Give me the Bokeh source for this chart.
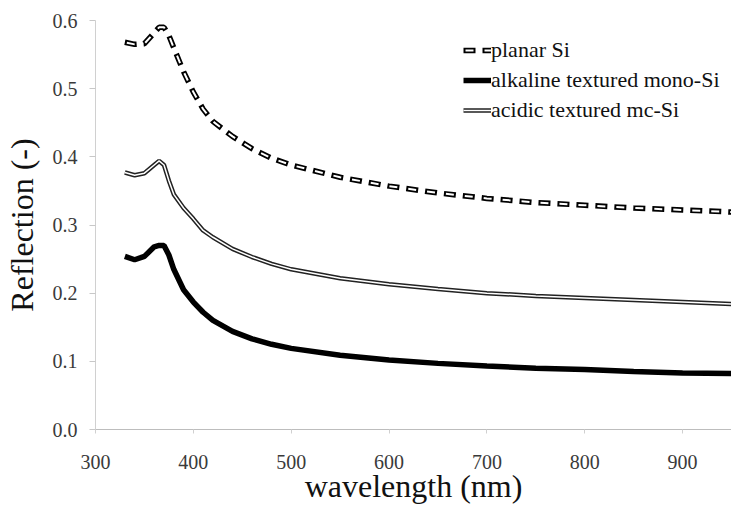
from bokeh.plotting import figure
from bokeh.models import Legend, LegendItem, PrintfTickFormatter, FixedTicker, Range1d
from bokeh.embed import file_html
from bokeh.resources import INLINE

wavelength = [330, 340, 350, 360, 365, 370, 375, 380, 390, 400, 410, 420, 440, 460, 480,
              500, 550, 600, 650, 700, 750, 800, 850, 900, 950]
planar_si = [0.568, 0.565, 0.566, 0.582, 0.590, 0.590, 0.578, 0.560, 0.525, 0.495, 0.470,
             0.452, 0.430, 0.412, 0.398, 0.388, 0.370, 0.357, 0.347, 0.339, 0.333, 0.329,
             0.325, 0.322, 0.319]
alkaline_mono = [0.254, 0.249, 0.254, 0.268, 0.270, 0.270, 0.256, 0.235, 0.205, 0.187, 0.172,
                 0.160, 0.144, 0.133, 0.125, 0.119, 0.109, 0.102, 0.097, 0.093, 0.090, 0.088,
                 0.085, 0.083, 0.082]
acidic_mc = [0.377, 0.373, 0.376, 0.388, 0.394, 0.388, 0.365, 0.345, 0.325, 0.309, 0.292,
             0.282, 0.265, 0.253, 0.243, 0.235, 0.222, 0.213, 0.206, 0.200, 0.196, 0.193,
             0.190, 0.187, 0.184]
labels = ["planar Si", "alkaline textured mono-Si", "acidic textured mc-Si"]
x_ticks = [300, 400, 500, 600, 700, 800, 900]
y_ticks = [0.0, 0.1, 0.2, 0.3, 0.4, 0.5, 0.6]

FONT = "Liberation Serif"

p = figure(width=731, height=507, output_backend="svg", toolbar_location=None,
           x_range=Range1d(300, 950), y_range=Range1d(0, 0.6),
           min_border_left=90, min_border_right=0, min_border_top=20, min_border_bottom=78)
p.outline_line_color = None
p.xgrid.visible = False
p.ygrid.visible = False

# planar Si: outlined dashes
r1a = p.line(wavelength, planar_si, line_color="black", line_width=5.5, line_dash="12 7")
r1b = p.line(wavelength, planar_si, line_color="white", line_width=2, line_dash="8 11",
             line_dash_offset=-2)
# alkaline: thick black
r2 = p.line(wavelength, alkaline_mono, line_color="black", line_width=5.5)
# acidic: double line
r3a = p.line(wavelength, acidic_mc, line_color="#222222", line_width=4.5)
r3b = p.line(wavelength, acidic_mc, line_color="white", line_width=1.5)

legend = Legend(items=[
    LegendItem(label=labels[0], renderers=[r1a, r1b]),
    LegendItem(label=labels[1], renderers=[r2]),
    LegendItem(label=labels[2], renderers=[r3a, r3b]),
], location=(368, 306))
legend.label_text_font = FONT
legend.label_text_font_size = "22px"
legend.label_text_color = "#111111"
legend.border_line_color = None
legend.background_fill_alpha = 0
legend.glyph_width = 28
legend.glyph_height = 20
legend.label_height = 24
legend.label_standoff = 0
legend.spacing = 4
legend.padding = 0
legend.margin = 0
p.add_layout(legend, "center")

for ax in (p.xaxis, p.yaxis):
    ax.minor_tick_line_color = None
    ax.major_tick_in = 0
    ax.major_label_text_font = FONT
    ax.major_label_text_font_size = "20px"
    ax.major_label_text_color = "#3a3a3a"
    ax.axis_label_text_font = FONT
    ax.axis_label_text_font_style = "normal"
    ax.axis_label_text_font_size = "32px"
    ax.axis_label_text_color = "#111111"

p.xaxis.ticker = FixedTicker(ticks=x_ticks)
p.yaxis.ticker = FixedTicker(ticks=y_ticks)
p.yaxis.formatter = PrintfTickFormatter(format="%.1f")
p.xaxis.axis_label = "wavelength (nm)"
p.yaxis.axis_label = "Reflection (-)"
p.xaxis.axis_line_color = "#bdbdbd"
p.yaxis.axis_line_color = "#d0d0d0"
p.xaxis.major_tick_line_color = "#d0d0d0"
p.yaxis.major_tick_line_color = "#c8c8c8"
p.xaxis.major_tick_out = 4
p.yaxis.major_tick_out = 6
p.xaxis.major_label_standoff = 21
p.yaxis.major_label_standoff = 12
p.xaxis.axis_label_standoff = -4
p.yaxis.axis_label_standoff = 10

open("out.html", "w").write(file_html(p, INLINE))
